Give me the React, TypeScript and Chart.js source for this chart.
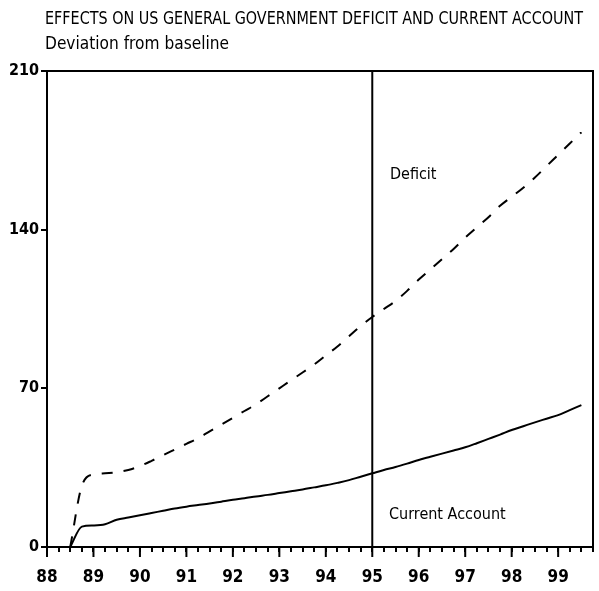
import React, { useEffect, useRef } from 'react';
import { Chart, registerables } from 'chart.js';

Chart.register(...registerables);

const TITLE = 'EFFECTS ON US GENERAL GOVERNMENT DEFICIT AND CURRENT ACCOUNT';
const SUBTITLE = 'Deviation from baseline';

const quarters = [
  88.5, 88.75, 89, 89.25, 89.5, 89.75, 90, 90.25, 90.5, 90.75,
  91, 91.25, 91.5, 91.75, 92, 92.25, 92.5, 92.75, 93, 93.25,
  93.5, 93.75, 94, 94.25, 94.5, 94.75, 95, 95.25, 95.5, 95.75,
  96, 96.25, 96.5, 96.75, 97, 97.25, 97.5, 97.75, 98, 98.25,
  98.5, 98.75, 99, 99.25, 99.5,
];

const currentAccount = [
  0, 9, 9.5, 10, 12, 13, 14, 15, 16, 17,
  17.8, 18.5, 19.2, 20, 20.8, 21.5, 22.3, 23, 23.8, 24.6,
  25.4, 26.3, 27.2, 28.3, 29.5, 31, 32.5, 34, 35.3, 36.8,
  38.4, 39.8, 41.2, 42.6, 44, 45.8, 47.7, 49.6, 51.6, 53.3,
  55, 56.6, 58.2, 60.4, 62.6,
];

const deficit = [
  0, 27, 32, 32.5, 33, 34, 35.7, 38, 40.5, 43,
  45.5, 48, 51, 54, 57, 60, 63, 66.5, 70, 73.5,
  77, 80.5, 84.5, 88.5, 93, 97.5, 101.5, 105, 108.5, 113,
  118, 122.5, 127, 131.5, 136.5, 141, 145.5, 150.5, 154.5, 158.5,
  163, 168, 173, 178, 183,
];

const dividerYear = 95;
const xMin = 88;
const xMax = 99.75;
const yMin = 0;
const yMax = 210;
const yStep = 70;
const xMinorStep = 0.25;

const seriesLabels = [
  { text: 'Deficit', x: 95.38, y: 164 },
  { text: 'Current Account', x: 95.36, y: 14 },
];

const FONT = "'Liberation Sans Narrow', 'DejaVu Sans Condensed', 'DejaVu Sans', sans-serif";

export default function App() {
  const ref = useRef<HTMLCanvasElement | null>(null);

  useEffect(() => {
    const canvas = ref.current;
    if (!canvas) return;

    const decor = {
      id: 'decor',
      afterDraw(chart: any) {
        const { ctx, chartArea, scales } = chart;
        const xs = scales.x;
        const ys = scales.y;
        ctx.save();
        ctx.strokeStyle = '#000';
        ctx.fillStyle = '#000';
        ctx.lineWidth = 2;
        ctx.beginPath();
        ctx.moveTo(chartArea.left, chartArea.top);
        ctx.lineTo(chartArea.right, chartArea.top);
        ctx.lineTo(chartArea.right, chartArea.bottom);
        ctx.stroke();
        for (let v = Math.ceil(xMin); v <= xMax; v += 1) {
          const px = xs.getPixelForValue(v);
          ctx.beginPath();
          ctx.moveTo(px, chartArea.bottom);
          ctx.lineTo(px, chartArea.bottom + 10);
          ctx.stroke();
        }
        ctx.textBaseline = 'middle';
        ctx.textAlign = 'left';
        ctx.font = `16px ${FONT}`;
        seriesLabels.forEach((l) => {
          ctx.fillText(l.text, xs.getPixelForValue(l.x), ys.getPixelForValue(l.y));
        });
        ctx.textBaseline = 'alphabetic';
        ctx.font = `18px ${FONT}`;
        ctx.fillText(TITLE, 45, 24, 538);
        ctx.fillText(SUBTITLE, 45, 49, 184);
        ctx.restore();
      },
    };

    const chart = new Chart(canvas, {
      type: 'line',
      data: {
        datasets: [
          {
            label: 'Deficit',
            data: quarters.map((x, i) => ({ x, y: deficit[i] })),
            borderColor: '#000',
            borderWidth: 2,
            borderDash: [11, 11],
            pointRadius: 0,
            fill: false,
            cubicInterpolationMode: 'monotone',
          },
          {
            label: 'Current Account',
            data: quarters.map((x, i) => ({ x, y: currentAccount[i] })),
            borderColor: '#000',
            borderWidth: 2,
            pointRadius: 0,
            fill: false,
            cubicInterpolationMode: 'monotone',
          },
          {
            label: 'divider',
            data: [
              { x: dividerYear, y: yMin },
              { x: dividerYear, y: yMax },
            ],
            borderColor: '#000',
            borderWidth: 2,
            pointRadius: 0,
            fill: false,
          },
        ],
      },
      options: {
        responsive: false,
        animation: false,
        layout: { padding: { left: 0, top: 71, right: 6, bottom: 0 } },
        plugins: {
          legend: { display: false },
          title: { display: false },
          tooltip: { enabled: false },
        },
        scales: {
          x: {
            type: 'linear',
            min: xMin,
            max: xMax,
            afterFit: (s: any) => {
              s.height = 44;
              s.paddingLeft = 0;
              s.paddingRight = 0;
            },
            ticks: {
              stepSize: xMinorStep,
              autoSkip: false,
              maxRotation: 0,
              minRotation: 0,
              color: '#000',
              padding: 15,
              font: { family: FONT, size: 17, weight: 'bold' },
              callback: (v: any) => {
                const n = Number(v);
                return Math.abs(n - Math.round(n)) < 1e-6 ? String(Math.round(n)) : '';
              },
            },
            grid: {
              drawOnChartArea: false,
              drawTicks: true,
              tickLength: 5,
              color: '#000',
              lineWidth: 2,
            },
            border: { display: true, color: '#000', width: 2 },
          },
          y: {
            type: 'linear',
            min: yMin,
            max: yMax,
            afterFit: (s: any) => {
              s.width = 47;
              s.paddingTop = 0;
              s.paddingBottom = 0;
            },
            ticks: {
              stepSize: yStep,
              color: '#000',
              padding: 2,
              font: { family: FONT, size: 16, weight: 'bold' },
            },
            grid: {
              drawOnChartArea: false,
              drawTicks: true,
              tickLength: 6,
              color: '#000',
              lineWidth: 2,
            },
            border: { display: true, color: '#000', width: 2 },
          },
        },
      },
      plugins: [decor],
    } as any);

    return () => chart.destroy();
  }, []);

  return (
    <div style={{ position: 'absolute', left: 0, top: 0, width: 599, height: 591, background: '#fff' }}>
      <canvas ref={ref} width={599} height={591} />
    </div>
  );
}
